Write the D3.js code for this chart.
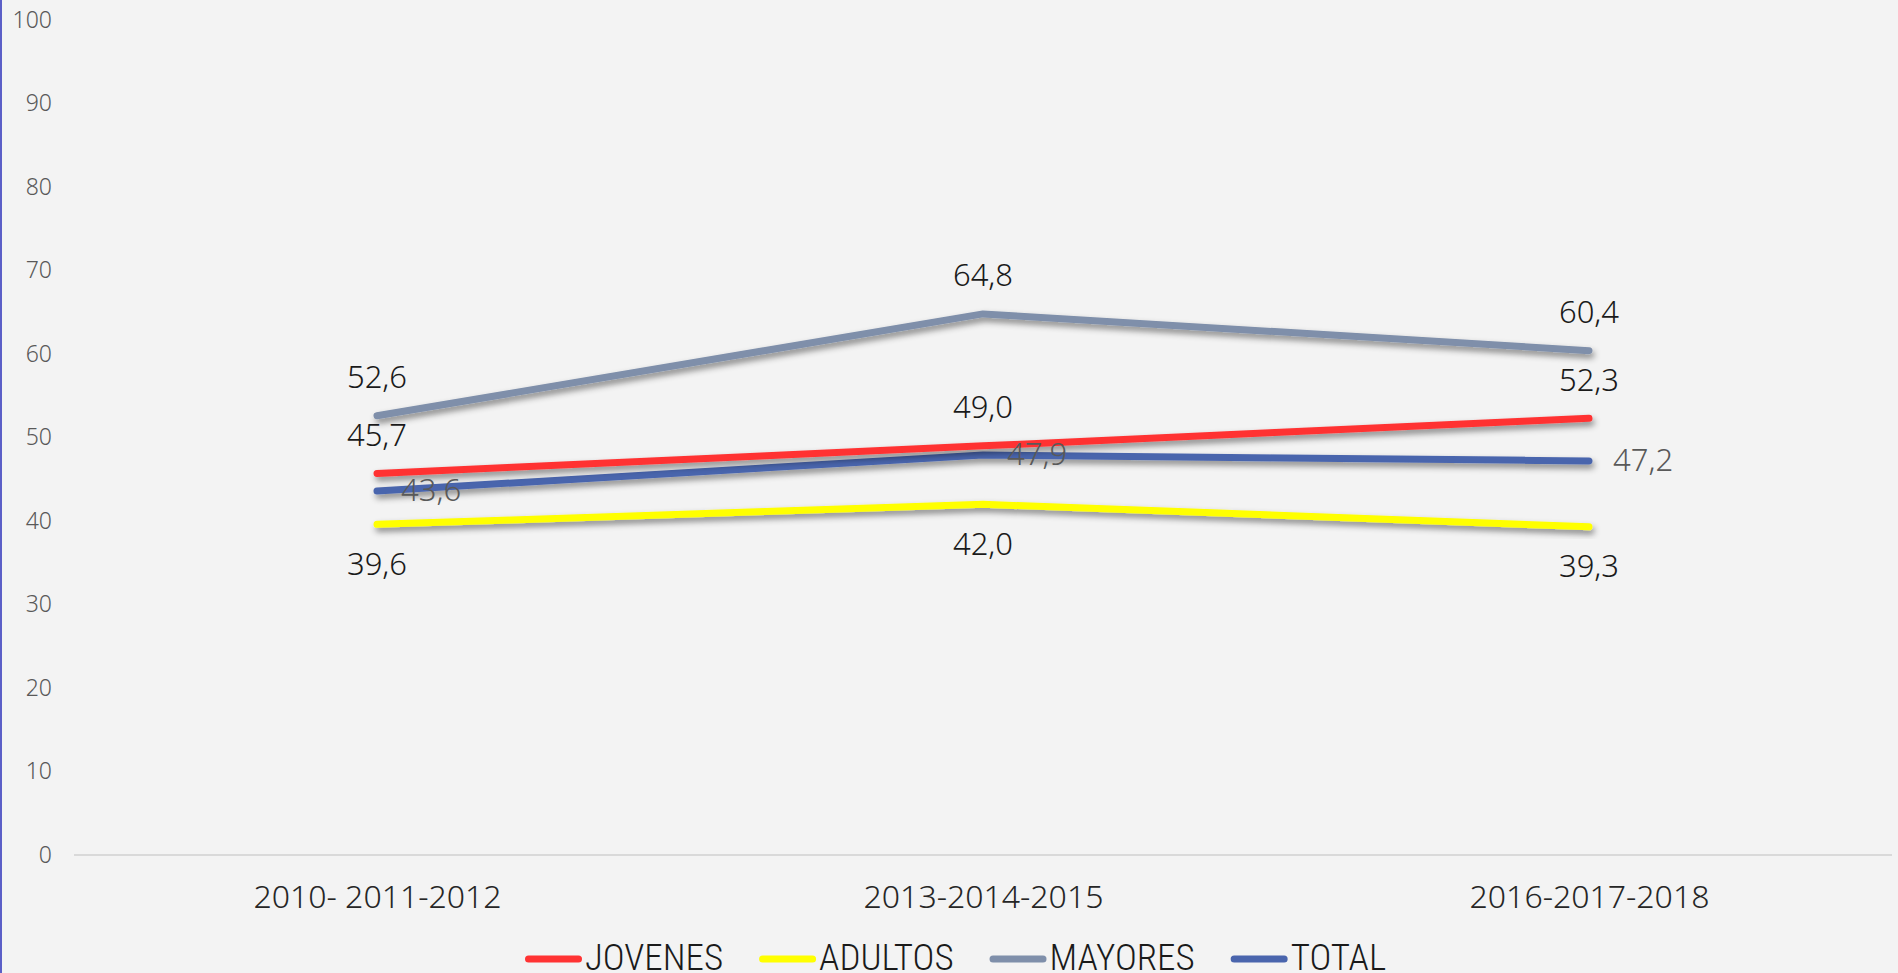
<!DOCTYPE html>
<html>
<head>
<meta charset="utf-8">
<style>
  html, body { margin: 0; padding: 0; background: #f3f3f3; }
  svg { display: block; }
</style>
</head>
<body>
<svg width="1898" height="973"></svg>
<script src="https://cdn.jsdelivr.net/npm/d3@7/dist/d3.min.js"></script>
<script>
// periodos y series
var periods = ["2010- 2011-2012", "2013-2014-2015", "2016-2017-2018"];
var jovenes = [45.7, 49.0, 52.3];
var adultos = [39.6, 42.0, 39.3];
var mayores = [52.6, 64.8, 60.4];
var total   = [43.6, 47.9, 47.2];
var yTicks  = [0, 10, 20, 30, 40, 50, 60, 70, 80, 90, 100];

var series = [
  {name: "JOVENES", values: jovenes, color: "#ff3333", label: "above"},
  {name: "ADULTOS", values: adultos, color: "#ffff00", label: "below"},
  {name: "MAYORES", values: mayores, color: "#7f8faa", label: "above"},
  {name: "TOTAL",   values: total,   color: "#4a65ad", label: "right"}
];
// draw order: back to front
var drawOrder = ["MAYORES", "ADULTOS", "TOTAL", "JOVENES"];

var svg = d3.select("svg");

var fmt = function(v) { return d3.format(".1f")(v).replace(".", ","); };

var x = d3.scalePoint().domain(periods).range([74, 1892]).padding(0.5);
var y = d3.scaleLinear().domain([0, 100]).range([855, 20]);

// left border
svg.append("rect").attr("x", 0).attr("y", 0).attr("width", 2).attr("height", 973)
  .attr("fill", "#5b5fc7");

// drop shadow for the lines
var defs = svg.append("defs");
defs.append("filter").attr("id", "shadow")
  .attr("x", "-10%").attr("y", "-50%").attr("width", "120%").attr("height", "200%")
  .append("feDropShadow")
  .attr("dx", 2).attr("dy", 4).attr("stdDeviation", 3)
  .attr("flood-color", "#000").attr("flood-opacity", 0.45);

// y axis labels
var yAxis = svg.append("g").attr("transform", "translate(52,0)")
  .call(d3.axisLeft(y).tickValues(yTicks).tickSize(0).tickPadding(0));
yAxis.select(".domain").remove();
yAxis.selectAll("text")
  .attr("font-family", "'Noto Sans', sans-serif")
  .attr("font-weight", 300)
  .attr("font-size", 23)
  .attr("fill", "#595959");

// baseline
var xAxis = svg.append("g").attr("transform", "translate(0," + y(0) + ")")
  .call(d3.axisBottom(x).tickSize(0).tickPadding(30));
xAxis.select(".domain").attr("stroke", "#d9d9d9").attr("stroke-width", 2)
  .attr("d", "M74,0H1892");
xAxis.selectAll("text")
  .attr("font-family", "'Noto Sans', sans-serif")
  .attr("font-weight", 300)
  .attr("font-size", 32)
  .attr("fill", "#262626");

var line = d3.line()
  .x(function(d, i) { return x(periods[i]); })
  .y(function(d) { return y(d); });

var byName = {};
series.forEach(function(s) { byName[s.name] = s; });

svg.append("g").selectAll("path")
  .data(drawOrder.map(function(n) { return byName[n]; }))
  .enter().append("path")
  .attr("d", function(s) { return line(s.values); })
  .attr("fill", "none")
  .attr("stroke", function(s) { return s.color; })
  .attr("stroke-width", 7)
  .attr("stroke-linecap", "round")
  .attr("stroke-linejoin", "round")
  .attr("filter", "url(#shadow)");

// data labels
series.forEach(function(s) {
  svg.append("g").selectAll("text")
    .data(s.values)
    .enter().append("text")
    .attr("x", function(d, i) { return x(periods[i]) + (s.label === "right" ? 24 : 0); })
    .attr("y", function(d) {
      if (s.label === "above") return y(d) - 36;
      if (s.label === "below") return y(d) + 42;
      return y(d) + 2;
    })
    .attr("text-anchor", s.label === "right" ? "start" : "middle")
    .attr("dominant-baseline", "middle")
    .attr("font-family", "'Noto Sans', sans-serif")
    .attr("font-weight", 300)
    .attr("font-size", 31)
    .attr("fill", s.label === "right" ? "#595959" : "#1a1a1a")
    .text(fmt);
});

// legend
var legend = svg.append("g").attr("transform", "translate(525,959)");
var lx = 0;
series.forEach(function(s) {
  var g = legend.append("g").attr("transform", "translate(" + lx + ",0)");
  g.append("line").attr("x1", 3.5).attr("x2", 53.5).attr("y1", 0).attr("y2", 0)
    .attr("stroke", s.color).attr("stroke-width", 7).attr("stroke-linecap", "round");
  var t = g.append("text").attr("x", 60).attr("y", 11)
    .attr("font-family", "'Liberation Sans Narrow', 'Roboto Condensed', sans-serif")
    .attr("font-weight", 300)
    .attr("font-size", 37)
    .attr("fill", "#1a1a1a")
    .text(s.name);
  lx += 60 + t.node().getComputedTextLength() + 36;
});
</script>
</body>
</html>
